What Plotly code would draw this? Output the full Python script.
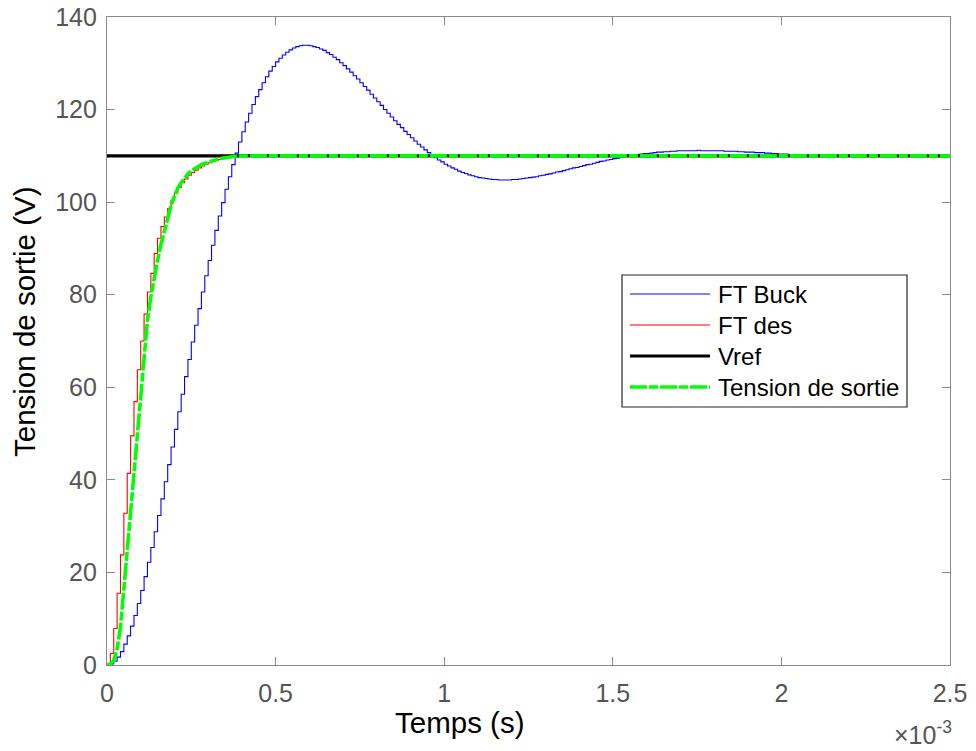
import plotly.graph_objects as go

# ---------------- data ----------------
SAMPLE_PERIOD = 1e-5  # s, step of the discrete simulation (staircase width)

ft_buck = [0.0, 0.2, 0.8, 1.7, 2.9, 4.5, 6.3, 8.4, 10.7, 13.3,
           16.1, 19.1, 22.2, 25.4, 28.8, 32.3, 35.9, 39.6, 43.3, 47.1,
           50.9, 54.7, 58.5, 62.3, 66.0, 69.8, 73.4, 77.0, 80.6, 84.1,
           87.4, 90.7, 93.9, 97.0, 99.9, 102.8, 105.5, 108.1, 110.6, 113.0,
           115.2, 117.3, 119.2, 121.1, 122.8, 124.3, 125.8, 127.1, 128.3, 129.3,
           130.3, 131.1, 131.8, 132.4, 132.9, 133.3, 133.6, 133.8, 133.9, 133.9,
           133.8, 133.6, 133.4, 133.1, 132.8, 132.3, 131.9, 131.3, 130.8, 130.1,
           129.5, 128.8, 128.1, 127.3, 126.6, 125.8, 125.0, 124.2, 123.3, 122.5,
           121.7, 120.9, 120.0, 119.2, 118.4, 117.6, 116.8, 116.1, 115.3, 114.6,
           113.9, 113.2, 112.5, 111.9, 111.3, 110.7, 110.2, 109.6, 109.1, 108.7,
           108.2, 107.8, 107.4, 107.1, 106.7, 106.4, 106.2, 105.9, 105.7, 105.5,
           105.3, 105.2, 105.1, 105.0, 104.9, 104.9, 104.8, 104.8, 104.8, 104.8,
           104.9, 104.9, 105.0, 105.1, 105.2, 105.3, 105.4, 105.5, 105.7, 105.8,
           106.0, 106.1, 106.3, 106.5, 106.6, 106.8, 107.0, 107.2, 107.4, 107.5,
           107.7, 107.9, 108.1, 108.2, 108.4, 108.6, 108.8, 108.9, 109.1, 109.2,
           109.4, 109.5, 109.7, 109.8, 109.9, 110.0, 110.1, 110.3, 110.4, 110.5,
           110.5, 110.6, 110.7, 110.8, 110.8, 110.9, 110.9, 111.0, 111.0, 111.1,
           111.1, 111.1, 111.1, 111.1, 111.1, 111.2, 111.1, 111.1, 111.1, 111.1,
           111.1, 111.1, 111.1, 111.0, 111.0, 111.0, 111.0, 110.9, 110.9, 110.8,
           110.8, 110.8, 110.7, 110.7, 110.7, 110.6, 110.6, 110.5, 110.5, 110.4,
           110.4, 110.4, 110.3]

ft_des = [0.0, 2.5, 7.9, 15.5, 23.8, 32.8, 41.4, 49.5, 56.9, 63.8,
          70.0, 75.8, 80.6, 84.6, 88.9, 92.2, 94.7, 96.8, 98.6, 100.4,
          102.0, 103.2, 104.2, 105.0, 105.8, 106.4, 106.9, 107.4, 107.8, 108.2,
          108.5, 108.8, 109.0, 109.2, 109.4, 109.5, 109.6, 109.7, 109.8, 109.85,
          109.9, 109.92, 109.94, 109.96, 109.98, 110.0]
ft_des_end_time = 2.02e-3
ft_des_end_value = 110.0

vref_t = [0.0, 2.5e-3]
vref_v = [110.0, 110.0]

sortie_t_ms = [0, 0.01, 0.02, 0.03, 0.04, 0.05, 0.06, 0.07, 0.08, 0.09,
               0.10, 0.11, 0.12, 0.13, 0.14, 0.15, 0.16, 0.17, 0.18, 0.19,
               0.20, 0.21, 0.22, 0.23, 0.24, 0.25, 0.26, 0.27, 0.28, 0.29,
               0.30, 0.32, 0.34, 0.36, 0.38, 0.40, 0.45, 2.5]
sortie_v = [0, 0.2, 1.0, 3.5, 8.2, 16.5, 25.0, 34.0, 42.5, 51.0,
            59.5, 67.5, 74.5, 79.5, 84.0, 87.5, 90.8, 93.8, 96.5, 99.3,
            101.3, 103.0, 104.2, 105.3, 106.1, 106.8, 107.3, 107.7, 108.1, 108.4,
            108.7, 109.1, 109.5, 109.75, 109.9, 109.95, 110, 110]

x_tickvals = [0, 0.5e-3, 1.0e-3, 1.5e-3, 2.0e-3, 2.5e-3]
x_ticktext = ["0", "0.5", "1", "1.5", "2", "2.5"]
y_tickvals = [0, 20, 40, 60, 80, 100, 120, 140]

names = ["FT Buck", "FT des", "Vref", "Tension de sortie"]

# ---------------- derived series ----------------
buck_t = [k * SAMPLE_PERIOD for k in range(len(ft_buck))]
des_t = [k * SAMPLE_PERIOD for k in range(len(ft_des))] + [ft_des_end_time]
des_v = ft_des + [ft_des_end_value]
sortie_t = [v * 1e-3 for v in sortie_t_ms]

# ---------------- styles ----------------
FONT = "Liberation Sans, Arial, Helvetica, sans-serif"
BLUE = "#0000ff"
RED = "#ff0000"
BLACK = "#000000"
GREEN = "#00ff00"
GREEN_DASH = "17px,2px,9px,2px"
AXIS_COLOR = "#8a8a8a"
TICK_FONT_COLOR = "#555555"

W, H = 976, 751
ML, MR, MT, MB = 107, 26, 17, 86
PW, PH = W - ML - MR, H - MT - MB


def px(xp):
    return (xp - ML) / PW


def py(yp):
    return (H - MB - yp) / PH


fig = go.Figure()
fig.add_trace(go.Scatter(x=buck_t, y=ft_buck, mode="lines", name=names[0],
                         line=dict(color=BLUE, width=1.1, shape="hv")))
fig.add_trace(go.Scatter(x=des_t, y=des_v, mode="lines", name=names[1],
                         line=dict(color=RED, width=1.1, shape="hv")))
fig.add_trace(go.Scatter(x=vref_t, y=vref_v, mode="lines", name=names[2],
                         line=dict(color=BLACK, width=3.2)))
fig.add_trace(go.Scatter(x=sortie_t, y=sortie_v, mode="lines", name=names[3],
                         line=dict(color=GREEN, width=3.6, dash=GREEN_DASH)))

axis_common = dict(
    showline=True, linecolor=AXIS_COLOR, linewidth=1.3, mirror="ticks",
    ticks="inside", ticklen=8, tickwidth=1.3, tickcolor=AXIS_COLOR,
    showgrid=False, zeroline=False, automargin=False,
    tickfont=dict(family=FONT, size=25, color=TICK_FONT_COLOR),
)

fig.update_layout(
    width=W, height=H, autosize=False,
    margin=dict(l=ML, r=MR, t=MT, b=MB, pad=0),
    paper_bgcolor="white", plot_bgcolor="white",
    showlegend=False,
    xaxis=dict(range=[0, 2.5e-3], tickvals=x_tickvals, ticktext=x_ticktext,
               ticklabelstandoff=6, **axis_common),
    yaxis=dict(range=[0, 140], tickvals=y_tickvals, ticklabelstandoff=4,
               **axis_common),
)

# axis titles
fig.add_annotation(text="Temps (s)", xref="paper", yref="paper",
                   x=px(459), y=py(722), showarrow=False,
                   font=dict(family=FONT, size=29.5, color="black"),
                   xanchor="center", yanchor="middle")
fig.add_annotation(text="Tension de sortie (V)", xref="paper", yref="paper",
                   x=px(24), y=py(322), showarrow=False, textangle=-90,
                   font=dict(family=FONT, size=29.5, color="black"),
                   xanchor="center", yanchor="middle")
fig.add_annotation(text="×10<sup>-3</sup>", xref="paper", yref="paper",
                   x=px(954), y=py(733), showarrow=False,
                   font=dict(family=FONT, size=25, color=TICK_FONT_COLOR),
                   xanchor="right", yanchor="middle")

# legend drawn as shapes + text
fig.add_shape(type="rect", xref="paper", yref="paper",
              x0=px(622), x1=px(907), y0=py(407), y1=py(275),
              line=dict(color="#262626", width=1.2), fillcolor="white", layer="above")
leg_rows = [294, 325, 356, 387]
leg_lines = [dict(color=BLUE, width=1.1), dict(color=RED, width=1.1),
             dict(color=BLACK, width=3.2), dict(color=GREEN, width=3.6, dash=GREEN_DASH)]
for name, yrow, ln in zip(names, leg_rows, leg_lines):
    fig.add_shape(type="line", xref="paper", yref="paper",
                  x0=px(630), x1=px(710), y0=py(yrow), y1=py(yrow),
                  line=ln, layer="above")
    fig.add_annotation(text=name, xref="paper", yref="paper",
                       x=px(716), y=py(yrow), showarrow=False,
                       font=dict(family=FONT, size=24, color="black"),
                       xanchor="left", yanchor="middle")

fig.write_html("out.html")
